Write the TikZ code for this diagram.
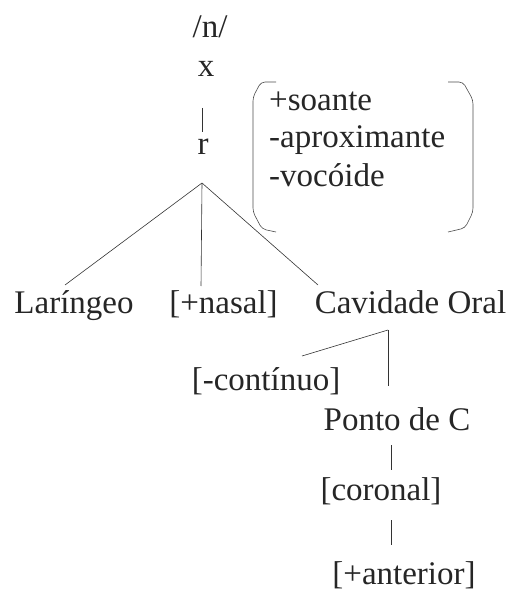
\documentclass[tikz,border=0pt]{standalone}
\usepackage{fontspec}
\setmainfont{Liberation Serif}
\begin{document}
\begin{tikzpicture}[x=1pt,y=-1pt,
  lbl/.style={anchor=base,inner sep=0pt,font=\fontsize{33}{38}\selectfont,text=black!85},
  feat/.style={anchor=base west,inner sep=0pt,font=\fontsize{33}{38}\selectfont,text=black!85},
  edge/.style={draw=black!80,line width=0.6pt},
  paren/.style={draw=black!70,line width=0.6pt,rounded corners=4pt}]
\useasboundingbox (0,0) rectangle (513,593);
% nodes
\node[lbl] (n) at (210,38) {/n/};
\node[lbl] (xx) at (206,77) {x};
\node[lbl] (r) at (203,155) {r};
\node[lbl] (lar) at (74,313) {Laríngeo};
\node[lbl] (nas) at (223.5,313) {[+nasal]};
\node[lbl] (cav) at (410.5,313) {Cavidade Oral};
\node[lbl] (cont) at (266,390) {[-contínuo]};
\node[lbl] (ponto) at (397,430) {Ponto de C};
\node[lbl] (cor) at (381,500) {[coronal]};
\node[lbl] (ant) at (404,584) {[+anterior]};
\node[feat] (f1) at (269,111) {+soante};
\node[feat] (f2) at (269,148) {-aproximante};
\node[feat] (f3) at (269,187) {-vocóide};
% connector points
\coordinate (xb) at (202,108);
\coordinate (rt) at (202,132);
\coordinate (apex) at (202,183);
\coordinate (lart) at (65,285);
\coordinate (nast) at (201,286);
\coordinate (cavt) at (318,285);
\coordinate (cavb) at (388,330);
\coordinate (contt) at (302,356);
\coordinate (pontot) at (388,386);
\coordinate (pontob) at (391,445);
\coordinate (cort) at (391,470);
\coordinate (corb) at (391,520);
\coordinate (antt) at (391,545);
% connectors
\draw[edge] (xb) -- (rt);
\draw[edge] (apex) -- (lart);
\draw[edge] (apex) -- (nast);
\draw[edge] (apex) -- (cavt);
\draw[edge] (cavb) -- (contt);
\draw[edge] (cavb) -- (pontot);
\draw[edge] (pontob) -- (cort);
\draw[edge] (corb) -- (antt);
% brackets
\draw[paren] (276,82) -- (261,82) -- (253,97) -- (253,212) -- (262,229) -- (276,232);
\draw[paren] (448,82) -- (463,82) -- (473,100) -- (473,212) -- (465,228) -- (448,232);
\end{tikzpicture}
\end{document}
